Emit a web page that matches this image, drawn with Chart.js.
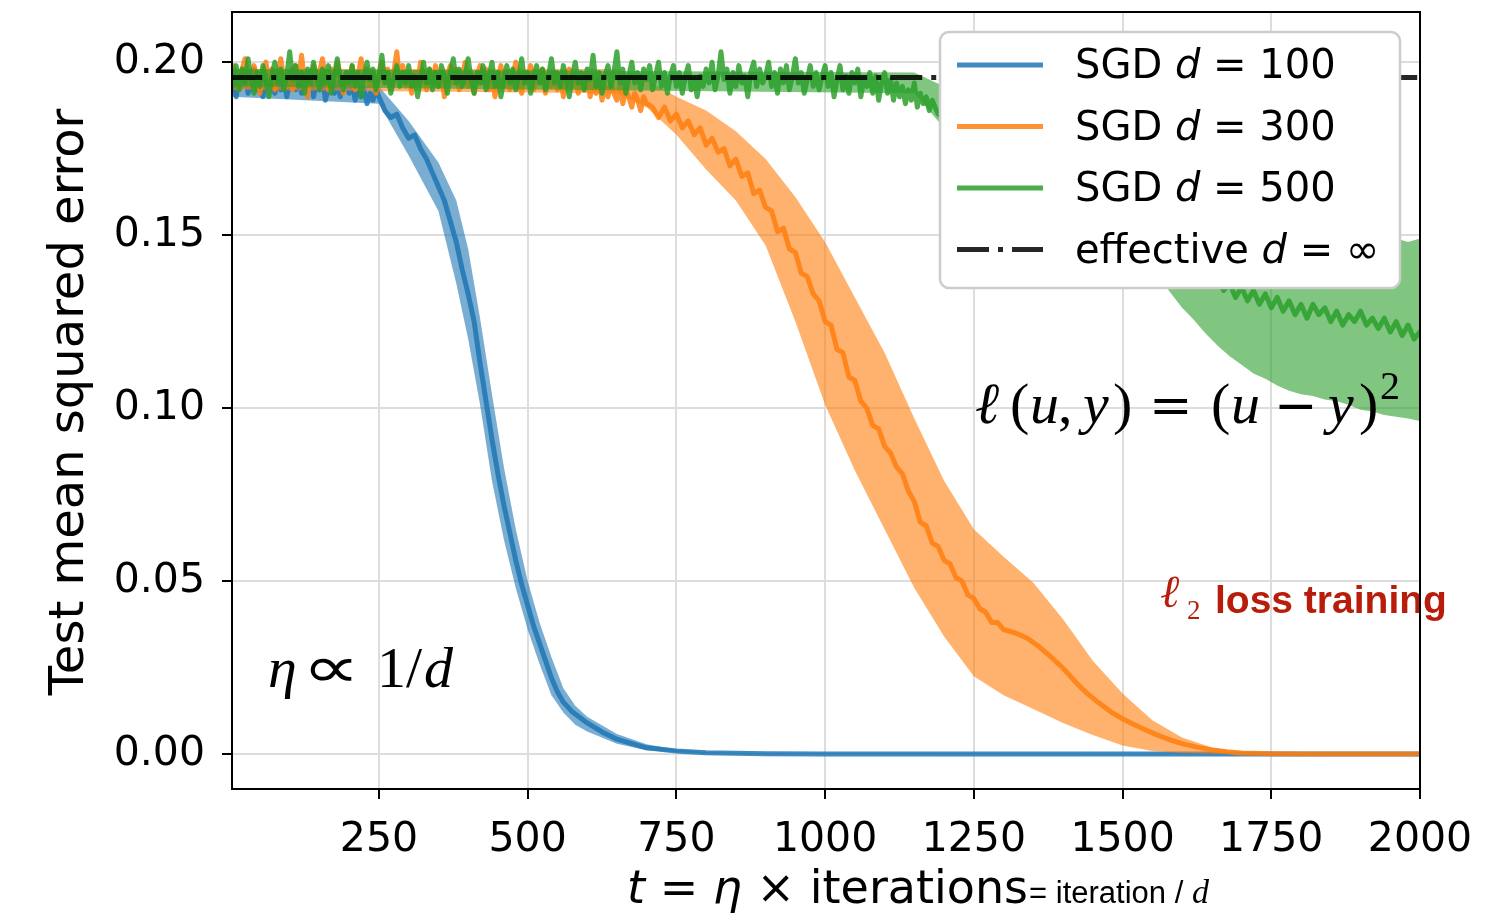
<!DOCTYPE html>
<html>
<head>
<meta charset="utf-8">
<script src="https://cdn.jsdelivr.net/npm/chart.js@4.4.0/dist/chart.umd.min.js"></script>
<style>
html, body { margin: 0; padding: 0; background: #fff; }
canvas { display: block; }
</style>
</head>
<body>
<canvas id="mse-chart" width="1512" height="922"></canvas>
<script>
// ---- values ----
const xTicks = [250, 500, 750, 1000, 1250, 1500, 1750, 2000];
const yTicks = [0, 0.05, 0.10, 0.15, 0.20];

// sample positions of the noisy plateau parts (every 5 time units)
const grid = (from, to, step) => Array.from({ length: Math.round((to - from) / step) + 1 }, (_, i) => from + i * step);

// SGD d = 100
const blueT = grid(0, 250, 5).concat([260, 270, 280, 290, 300, 310, 320, 330, 340, 350, 360, 370, 380, 390, 400, 410, 420, 430, 440, 450, 460, 470, 480, 490, 500,
    510, 520, 530, 540, 550, 560, 575, 590, 600, 625, 650, 675, 700, 750, 800, 900, 1000, 2000]);
const blueMean = [.192, .196, .190, .195, .193, .197, .191, .194, .198, .192, .195, .190, .196, .193, .197, .191, .195, .192, .196, .190,
    .194, .198, .192, .195, .191, .196, .193, .197, .190, .194, .192, .196, .189, .193, .195, .191, .194, .190, .193, .196,
    .191, .194, .189, .193, .190, .192, .188, .191, .189, .192, .190,
    .186, .184, .185, .181, .178, .179, .175, .172, .168, .164, .160, .154, .148, .140, .133, .125, .113, .102, .091, .081, .072, .064, .056, .049, .043,
    .037, .032, .027, .022, .018, .015, .0122, .0103, .0090, .0064, .0043, .0030, .0018, .0009, .0004, .0001, 0, 0];
const blueBandT = [0, 250, 300, 350, 380, 400, 420, 440, 460, 480, 500, 520, 540, 560, 580, 600, 650, 700, 750, 800, 900, 2000];
const blueHi = [.195, .193, .183, .171, .160, .146, .126, .104, .083, .065, .050, .038, .028, .019, .014, .0108, .0058, .0028, .0013, .0006, .0002, 0];
const blueLo = [.190, .188, .173, .157, .136, .120, .101, .079, .062, .048, .036, .026, .017, .012, .0085, .0065, .0030, .0011, .0005, .0002, 0, 0];

// SGD d = 300
const orangeT = grid(0, 700, 5).concat([710, 720, 730, 740, 750, 760, 770, 780, 790, 800, 810, 820, 830, 840, 850, 860, 870, 880, 890, 900,
    910, 920, 930, 940, 950, 960, 970, 980, 990, 1000, 1010, 1020, 1030, 1040, 1050, 1060, 1070, 1080, 1090, 1100,
    1110, 1120, 1130, 1140, 1150, 1160, 1170, 1180, 1190, 1200, 1210, 1220, 1230, 1240, 1250, 1260, 1270, 1280, 1290, 1300,
    1320, 1340, 1360, 1380, 1400, 1420, 1440, 1460, 1480, 1500, 1520, 1540, 1560, 1580, 1600, 1625, 1650, 1675, 1700, 1750, 1800, 2000]);
const orangeMean = [.194, .199, .196, .192, .198, .201, .195, .193, .199, .196, .191, .197, .200, .194, .198, .192, .196, .201, .195, .193,
    .197, .192, .199, .195, .202, .194, .190, .196, .199, .193, .197, .201, .195, .192, .198, .194, .200, .196, .191, .197,
    .194, .199, .192, .196, .201, .195, .198, .193, .197, .191, .196, .200, .194, .198, .192, .197, .203, .195, .199, .193,
    .196, .191, .197, .194, .200, .195, .192, .198, .194, .199, .193, .197, .190, .196, .199, .194, .198, .192, .196, .200,
    .193, .197, .191, .196, .199, .194, .198, .192, .196, .190, .195, .199, .193, .197, .192, .196, .200, .194, .191, .197,
    .195, .199, .192, .196, .194, .198, .191, .195, .193, .197, .192, .196, .190, .194, .198, .193, .196, .191, .195, .192,
    .196, .190, .194, .191, .195, .189, .193, .190, .194, .191, .189, .193, .188, .192, .190, .187, .191, .189, .186, .190,
    .188,
    .187, .184, .187, .183, .185, .181, .183, .179, .181, .176, .178, .174, .175, .170, .172, .167, .168, .162, .163, .158,
    .157, .151, .152, .146, .145, .139, .138, .133, .131, .125, .124, .117, .116, .109, .108, .102, .100, .095, .094, .089,
    .087, .083, .081, .076, .073, .067, .066, .061, .060, .056, .055, .051, .050, .046, .045, .042, .041, .038, .038, .036,
    .0350, .0335, .031, .028, .0248, .021, .0176, .0148, .0122, .0102, .0085, .0069, .0054, .0041, .0030, .0020, .0012, .0007, .0003, .0001, 0, 0];
const orangeBandT = [0, 650, 700, 750, 800, 850, 900, 950, 1000, 1050, 1100, 1150, 1200, 1250, 1300, 1350, 1400, 1450, 1500, 1550, 1600, 1650, 1700, 1750, 2000];
const orangeHi = [.198, .198, .195, .190, .186, .180, .172, .161, .148, .132, .116, .097, .079, .065, .057, .0495, .039, .027, .0175, .0098, .0048, .0019, .0006, .0002, 0];
const orangeLo = [.192, .191, .187, .179, .169, .160, .147, .125, .101, .082, .065, .048, .034, .0225, .017, .013, .009, .0055, .0025, .0009, .0003, .0001, 0, 0, 0];

// SGD d = 500
const greenT = grid(0, 1190, 5).concat([1250, 1300, 1350, 1400, 1450, 1500, 1550, 1600, 1650,
    1660, 1670, 1680, 1690, 1700, 1710, 1720, 1730, 1740, 1750, 1760, 1770, 1780, 1790, 1800, 1810, 1820, 1830, 1840, 1850,
    1860, 1870, 1880, 1890, 1900, 1910, 1920, 1930, 1940, 1950, 1960, 1970, 1980, 1990, 2000]);
const greenMean = [.197, .193, .199, .192, .198, .194, .201, .195, .191, .197, .193, .199, .195, .190, .196, .200, .194, .198, .192, .196,
    .203, .195, .199, .193, .197, .191, .198, .194, .200, .196, .192, .198, .194, .199, .191, .196, .201, .195, .192, .197,
    .194, .199, .193, .197, .190, .196, .200, .195, .198, .192, .196, .202, .194, .197, .191, .195, .199, .193, .197, .194,
    .199, .193, .196, .190, .195, .200, .194, .198, .192, .197, .193, .199, .196, .191, .197, .201, .194, .198, .193, .196,
    .201, .195, .191, .197, .194, .199, .192, .196, .200, .193, .197, .190, .195, .199, .194, .198, .192, .196, .201, .194,
    .197, .191, .196, .199, .194, .198, .192, .196, .201, .194, .197, .193, .199, .195, .190, .196, .200, .194, .197, .192,
    .198, .195, .202, .193, .197, .191, .196, .199, .193, .197, .203, .194, .198, .191, .196, .200, .194, .197, .192, .198,
    .195, .199, .192, .196, .200, .193, .197, .191, .196, .199, .193, .197, .191, .196, .199, .192, .195, .190, .196, .193,
    .198, .194, .200, .192, .196, .203, .195, .198, .191, .197, .193, .199, .194, .196, .190, .197, .200, .193, .198, .194,
    .196, .200, .193, .197, .191, .198, .194, .199, .192, .196, .201, .194, .197, .191, .195, .199, .193, .197, .192, .196,
    .199, .193, .197, .190, .195, .199, .192, .196, .191, .197, .194, .198, .190, .195, .193, .197, .191, .196, .189, .194,
    .197, .191, .195, .189, .194, .190, .193, .188, .192, .189, .194, .187, .191, .188, .190, .186, .189, .187, .185,
    .178, .171, .164, .158, .152, .147, .143, .139, .136,
    .137, .134, .136, .132, .135, .131, .134, .130, .133, .129, .132, .128, .131, .127, .130, .126, .130, .127, .129, .125,
    .128, .124, .127, .125, .128, .124, .126, .123, .126, .122, .125, .121, .124, .120, .122];
const greenBandT = [0, 1150, 1200, 1300, 1400, 1500, 1560, 1580, 1600, 1620, 1640, 1660, 1680, 1700, 1720, 1740, 1760, 1780, 1800, 1820,
    1840, 1860, 1880, 1900, 1920, 1940, 1960, 1980, 2000];
const greenHi = [.198, .197, .193, .186, .176, .167, .162, .160, .158, .157, .156, .155, .154, .153, .152, .152, .151, .151, .150, .150,
    .150, .149, .150, .149, .149, .148, .149, .148, .149];
const greenLo = [.193, .191, .181, .170, .159, .147, .138, .1335, .129, .1255, .1215, .118, .115, .1125, .110, .1085, .1065, .105, .104, .1035,
    .1025, .102, .101, .0995, .099, .098, .0975, .097, .0963];

// effective d = infinity
const effT = [0, 2000];
const effVal = [0.1956, 0.1956];

// ---- styling ----
const BLUE = 'rgba(31, 119, 180, 0.85)', BLUE_BAND = 'rgba(31, 119, 180, 0.6)';
const ORANGE = 'rgba(255, 127, 14, 0.85)', ORANGE_BAND = 'rgba(255, 127, 14, 0.6)';
const GREEN = 'rgba(44, 160, 44, 0.85)', GREEN_BAND = 'rgba(44, 160, 44, 0.6)';
const BLACK = 'rgba(0, 0, 0, 0.85)';
const SANS = "'DejaVu Sans'";
const SERIF = "'Liberation Serif', 'DejaVu Serif'";

const pts = (xs, ys) => xs.map((x, i) => ({ x: x, y: ys[i] }));

function lineSet(label, xs, ys, color) {
    return {
        label: label, data: pts(xs, ys), borderColor: color, borderWidth: 5,
        pointRadius: 0, fill: false, tension: 0, borderJoinStyle: 'round', borderCapStyle: 'round'
    };
}
function bandSet(xs, ys, color, fill) {
    return { data: pts(xs, ys), borderWidth: 0, borderColor: 'transparent', pointRadius: 0, backgroundColor: color, fill: fill };
}

function drawRuns(ctx, x, y, parts) {
    parts.forEach(p => {
        ctx.font = p[1];
        ctx.fillText(p[0], x, y);
        x += ctx.measureText(p[0]).width;
    });
    return x;
}
// glyphs placed one by one: [text, font, left x, baseline (optional)]
function drawPlaced(ctx, y, parts) {
    parts.forEach(p => { ctx.font = p[1]; ctx.fillText(p[0], p[2], p[3] || y); });
}

const decorations = {
    id: 'decorations',
    afterDraw(chart) {
        const ctx = chart.ctx;
        const a = chart.chartArea;
        ctx.save();
        ctx.fillStyle = '#000';
        ctx.textAlign = 'left';
        ctx.textBaseline = 'alphabetic';

        const s58 = '58px ' + SERIF, i58 = 'italic 58px ' + SERIF, op = "52px 'DejaVu Serif'";
        // eta ~ 1/d
        drawPlaced(ctx, 687, [['η', i58, 268], ['1/', s58, 377], ['d', i58, 424]]);
        ctx.save();
        ctx.translate(302, 687);
        ctx.scale(1.4, 1);
        ctx.font = "58px 'DejaVu Sans'";
        ctx.fillText('∝', 0, 0);
        ctx.restore();

        // loss formula
        drawPlaced(ctx, 423, [['ℓ', i58, 975], ['(', s58, 1010], ['u', i58, 1030], [',', s58, 1058], ['y', i58, 1083],
            [')', s58, 1113], ['=', op, 1149], ['(', s58, 1211], ['u', i58, 1231], ['−', op, 1274], ['y', i58, 1328],
            [')', s58, 1359], ['2', '40px ' + SERIF, 1380, 399]]);

        // l2 loss training
        ctx.fillStyle = '#b81d0b';
        drawPlaced(ctx, 607, [['ℓ', 'italic 46px ' + SERIF, 1160], ['2', '27px ' + SERIF, 1187, 619],
            ['loss training', "bold 39px 'Liberation Sans'", 1215, 613]]);

        // axis titles
        ctx.fillStyle = '#000';
        const r46 = '46px ' + SANS, o46 = 'italic 46px ' + SANS;
        let x = drawRuns(ctx, 627, 903, [['t', o46], [' = ', r46], ['η', o46], [' × ', r46], ['iterations', r46]]);
        x = drawRuns(ctx, x + 1, 903, [['= iteration / ', "31px 'Liberation Sans'"]]);
        drawRuns(ctx, x, 903, [['d', 'italic 34px ' + SERIF]]);

        ctx.save();
        ctx.translate(71, 402);
        ctx.rotate(-Math.PI / 2);
        ctx.textAlign = 'center';
        ctx.textBaseline = 'middle';
        ctx.font = '48px ' + SANS;
        ctx.fillText('Test mean squared error', 0, 0);
        ctx.restore();

        // legend
        ctx.beginPath();
        ctx.roundRect(940, 32, 460, 256, 9);
        ctx.fillStyle = '#fff';
        ctx.fill();
        ctx.lineWidth = 2.5;
        ctx.strokeStyle = '#cccccc';
        ctx.stroke();

        const r40 = '40px ' + SANS, o40 = 'italic 40px ' + SANS;
        const rows = [
            { color: BLUE, dash: [], parts: [['SGD ', r40], ['d', o40], [' = 100', r40]] },
            { color: ORANGE, dash: [], parts: [['SGD ', r40], ['d', o40], [' = 300', r40]] },
            { color: GREEN, dash: [], parts: [['SGD ', r40], ['d', o40], [' = 500', r40]] },
            { color: BLACK, dash: [32, 9, 5, 9], parts: [['effective ', r40], ['d', o40], [' = ∞', r40]] }
        ];
        rows.forEach((row, i) => {
            const ly = 65 + i * 61.5;
            ctx.beginPath();
            ctx.setLineDash(row.dash);
            ctx.lineCap = 'butt';
            ctx.lineWidth = 5;
            ctx.strokeStyle = row.color;
            ctx.moveTo(957, ly);
            ctx.lineTo(1043, ly);
            ctx.stroke();
            ctx.setLineDash([]);
            ctx.fillStyle = '#000';
            drawRuns(ctx, 1075, ly + 13, row.parts);
        });

        // axes frame
        ctx.lineWidth = 2;
        ctx.strokeStyle = '#000';
        ctx.strokeRect(a.left, a.top, a.right - a.left, a.bottom - a.top);
        ctx.restore();
    }
};

const tickFont = { family: 'DejaVu Sans', size: 41 };
const gridStyle = { color: '#dddddd', lineWidth: 2, tickLength: 10, tickColor: '#000', tickWidth: 2 };

new Chart(document.getElementById('mse-chart'), {
    type: 'line',
    data: {
        datasets: [
            Object.assign(lineSet('effective d = ∞', effT, effVal, BLACK), { borderWidth: 5, borderDash: [32, 9, 5, 9], borderCapStyle: 'butt' }),
            lineSet('SGD d = 500', greenT, greenMean, GREEN),
            bandSet(greenBandT, greenHi, GREEN_BAND, '+1'),
            bandSet(greenBandT, greenLo, GREEN_BAND, false),
            lineSet('SGD d = 300', orangeT, orangeMean, ORANGE),
            bandSet(orangeBandT, orangeHi, ORANGE_BAND, '+1'),
            bandSet(orangeBandT, orangeLo, ORANGE_BAND, false),
            lineSet('SGD d = 100', blueT, blueMean, BLUE),
            bandSet(blueBandT, blueHi, BLUE_BAND, '+1'),
            bandSet(blueBandT, blueLo, BLUE_BAND, false)
        ]
    },
    options: {
        responsive: false,
        animation: false,
        devicePixelRatio: 1,
        layout: { padding: { top: 12, right: 92, left: 0, bottom: 0 } },
        plugins: { legend: { display: false }, tooltip: { enabled: false } },
        scales: {
            x: {
                type: 'linear', min: 3, max: 2000,
                afterBuildTicks: s => { s.ticks = xTicks.map(v => ({ value: v })); },
                afterFit: s => { s.height = 133; s.paddingLeft = 0; s.paddingRight = 0; },
                ticks: { font: tickFont, color: '#000', padding: 17, maxRotation: 0, autoSkip: false, callback: v => String(v) },
                grid: gridStyle,
                border: { color: '#000', width: 2 }
            },
            y: {
                min: -0.0101, max: 0.2145,
                afterBuildTicks: s => { s.ticks = yTicks.map(v => ({ value: v })); },
                afterFit: s => { s.width = 232; s.paddingTop = 0; s.paddingBottom = 0; },
                ticks: { font: tickFont, color: '#000', padding: 17, autoSkip: false, callback: v => v.toFixed(2) },
                grid: gridStyle,
                border: { color: '#000', width: 2 }
            }
        }
    },
    plugins: [decorations]
});
</script>
</body>
</html>
